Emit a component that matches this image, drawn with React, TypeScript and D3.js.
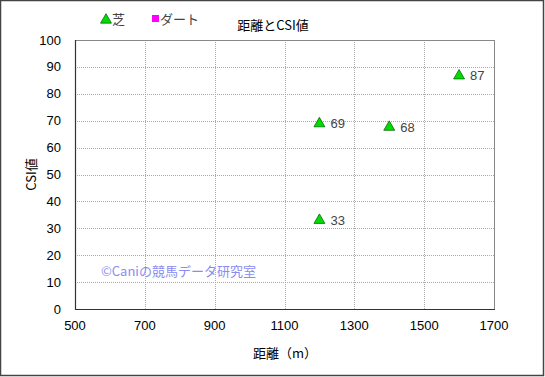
import React from "react";
import * as d3 from "d3";

const distances = [1200, 1200, 1400, 1600];
const csiValues = [68.9, 33, 67.6, 86.7];
const xTicks = [500, 700, 900, 1100, 1300, 1500, 1700];
const yTicks = [0, 10, 20, 30, 40, 50, 60, 70, 80, 90, 100];
const legendLabels = ["芝", "ダート"];
const legendColors = ["#00dd00", "#ff00ff"];

const W = 545, H = 377;
const left = 75, right = 494, top = 40, bottom = 309;
const font = "'Noto Sans CJK JP', 'Noto Sans', sans-serif";
const numFont = "'Liberation Sans', Arial, sans-serif";

export default function App() {
  const x = d3.scaleLinear().domain([500, 1700]).range([left, right]);
  const y = d3.scaleLinear().domain([0, 100]).range([bottom, top]);
  const tri = d3.symbol().type(d3.symbolTriangle).size(52)();
  return (
    <svg width={W} height={H} style={{ position: "absolute", left: 0, top: 0, background: "#fff" }} fontFamily={font}>
      <rect x={0.5} y={0.5} width={W - 2} height={H - 2} fill="#fff" stroke="#444" strokeWidth={1.5} />
      {/* grid */}
      {yTicks.slice(1, -1).map((t) => (
        <line key={"gy" + t} x1={left} x2={right} y1={Math.round(y(t)) + 0.5} y2={Math.round(y(t)) + 0.5} stroke="#aaa" strokeDasharray="1,1" />
      ))}
      {xTicks.slice(1, -1).map((t) => (
        <line key={"gx" + t} y1={top} y2={bottom} x1={Math.round(x(t)) + 0.5} x2={Math.round(x(t)) + 0.5} stroke="#aaa" strokeDasharray="1,1" />
      ))}
      <rect x={left + 0.5} y={top + 0.5} width={right - left} height={bottom - top} fill="none" stroke="#888" />
      <line x1={left + 0.5} x2={left + 0.5} y1={top} y2={bottom + 1} stroke="#333" strokeWidth={1.2} />
      <line x1={left} x2={right + 1} y1={bottom + 0.5} y2={bottom + 0.5} stroke="#333" strokeWidth={1.2} />
      {/* tick labels */}
      {yTicks.map((t) => (
        <text key={"ty" + t} x={61} y={y(t)} dy="0.35em" textAnchor="end" fontSize={13} fontFamily={numFont} fill="#000">{t}</text>
      ))}
      {xTicks.map((t) => (
        <text key={"tx" + t} x={x(t)} y={330} textAnchor="middle" fontSize={13} fontFamily={numFont} fill="#000">{t}</text>
      ))}
      {/* axis titles */}
      <text x={285} y={358} textAnchor="middle" fontSize={13} fill="#000">距離（m）</text>
      <text transform={`translate(36,${(top + bottom) / 2}) rotate(-90)`} textAnchor="middle" fontSize={13} fill="#000">CSI値</text>
      <text x={273} y={30} textAnchor="middle" fontSize={13} fill="#000">距離とCSI値</text>
      {/* legend */}
      <path d={tri} transform="translate(106,20)" fill={legendColors[0]} stroke="#005500" strokeWidth={0.7} />
      <text x={112} y={24} fontSize={13} fill="#444">{legendLabels[0]}</text>
      <rect x={152} y={15} width={7} height={7} fill={legendColors[1]} />
      <text x={160} y={24} fontSize={13} fill="#444">{legendLabels[1]}</text>
      {/* watermark */}
      <text x={101} y={276} fontSize={13} fill="#8c8cf0">©Caniの競馬データ研究室</text>
      {/* points */}
      {distances.map((d, i) => (
        <g key={"p" + i}>
          <path d={tri} transform={`translate(${x(d)},${y(csiValues[i])})`} fill={legendColors[0]} stroke="#005500" strokeWidth={0.7} />
          <text x={x(d) + 11} y={y(csiValues[i])} dy="0.35em" fontSize={13} fontFamily={numFont} fill="#444">{Math.round(csiValues[i])}</text>
        </g>
      ))}
    </svg>
  );
}
